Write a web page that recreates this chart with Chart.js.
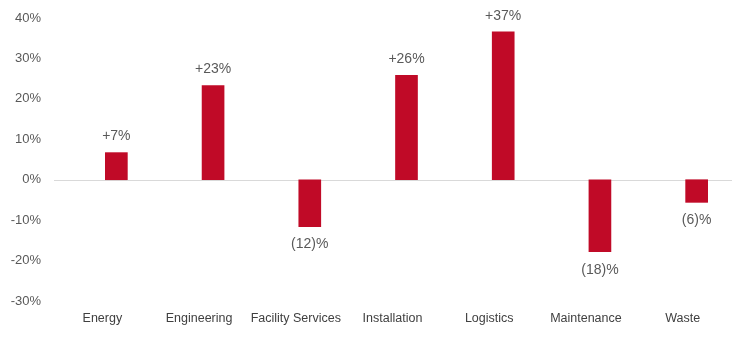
<!DOCTYPE html>
<html>
<head>
<meta charset="utf-8">
<script src="https://cdn.jsdelivr.net/npm/chart.js@4/dist/chart.umd.min.js"></script>
<style>
html,body{margin:0;padding:0;background:#fff;}
#wrap{width:749px;height:337px;position:relative;}
</style>
</head>
<body>
<div id="wrap"><canvas id="c" width="749" height="337"></canvas></div>
<script>
const categories = ["Energy","Engineering","Facility Services","Installation","Logistics","Maintenance","Waste"];
const values = [6.7, 23.3, -11.6, 25.8, 36.6, -17.8, -5.6];
const valueLabels = ["+7%","+23%","(12)%","+26%","+37%","(18)%","(6)%"];
const yTicks = [-30,-20,-10,0,10,20,30,40];

const valueLabelPlugin = {
  id: 'valueLabels',
  afterDatasetsDraw(chart) {
    const ctx = chart.ctx;
    const meta = chart.getDatasetMeta(0);
    ctx.save();
    ctx.font = '14px "Liberation Sans", Arial, sans-serif';
    ctx.fillStyle = '#595959';
    ctx.textAlign = 'center';
    ctx.textBaseline = 'middle';
    meta.data.forEach((bar, i) => {
      const v = values[i];
      const y = v >= 0 ? bar.y - 16 : bar.y + 18;
      ctx.fillText(valueLabels[i], bar.x, y);
    });
    ctx.restore();
  }
};

const zeroLinePlugin = {
  id: 'zeroLine',
  beforeDatasetsDraw(chart) {
    const ctx = chart.ctx;
    const y = Math.round(chart.scales.y.getPixelForValue(0)) + 0.5;
    const a = chart.chartArea;
    ctx.save();
    ctx.strokeStyle = '#d9d9d9';
    ctx.lineWidth = 1;
    ctx.beginPath();
    ctx.moveTo(a.left - 14, y);
    ctx.lineTo(a.right - 13, y);
    ctx.stroke();
    ctx.restore();
  }
};

// Category labels: the reference axis is offset ~14px left of the bars
const categoryLabelPlugin = {
  id: 'categoryLabels',
  afterDraw(chart) {
    const ctx = chart.ctx;
    const xs = chart.scales.x;
    const a = chart.chartArea;
    ctx.save();
    ctx.font = '12.5px "Liberation Sans", Arial, sans-serif';
    ctx.fillStyle = '#404040';
    ctx.textAlign = 'center';
    ctx.textBaseline = 'middle';
    categories.forEach((c, i) => {
      ctx.fillText(c, xs.getPixelForTick(i) - 14, a.bottom + 18);
    });
    ctx.restore();
  }
};

new Chart(document.getElementById('c'), {
  type: 'bar',
  data: {
    labels: categories,
    datasets: [{
      data: values,
      backgroundColor: '#C00A27',
      borderWidth: 0,
      barThickness: 22
    }]
  },
  options: {
    responsive: false,
    animation: false,
    devicePixelRatio: 1,
    layout: { padding: { top: 18, right: 4, left: 0, bottom: 0 } },
    plugins: { legend: { display: false }, tooltip: { enabled: false } },
    scales: {
      x: {
        grid: { display: false, drawTicks: false },
        border: { display: false },
        ticks: {
          padding: 11,
          color: 'rgba(0,0,0,0)',
          font: { family: '"Liberation Sans", Arial, sans-serif', size: 12 },
          maxRotation: 0,
          autoSkip: false
        },
        afterFit(scale) { scale.height = 36; }
      },
      y: {
        min: -30,
        max: 40,
        afterBuildTicks(scale) { scale.ticks = yTicks.map(v => ({ value: v })); },
        grid: { display: false, drawTicks: false },
        border: { display: false },
        ticks: {
          padding: 27,
          color: '#595959',
          font: { family: '"Liberation Sans", Arial, sans-serif', size: 13 },
          callback: v => v + '%'
        },
        afterFit(scale) { scale.width = 68; scale.paddingTop = 0; scale.paddingBottom = 0; }
      }
    }
  },
  plugins: [valueLabelPlugin, zeroLinePlugin, categoryLabelPlugin]
});
</script>
</body>
</html>
